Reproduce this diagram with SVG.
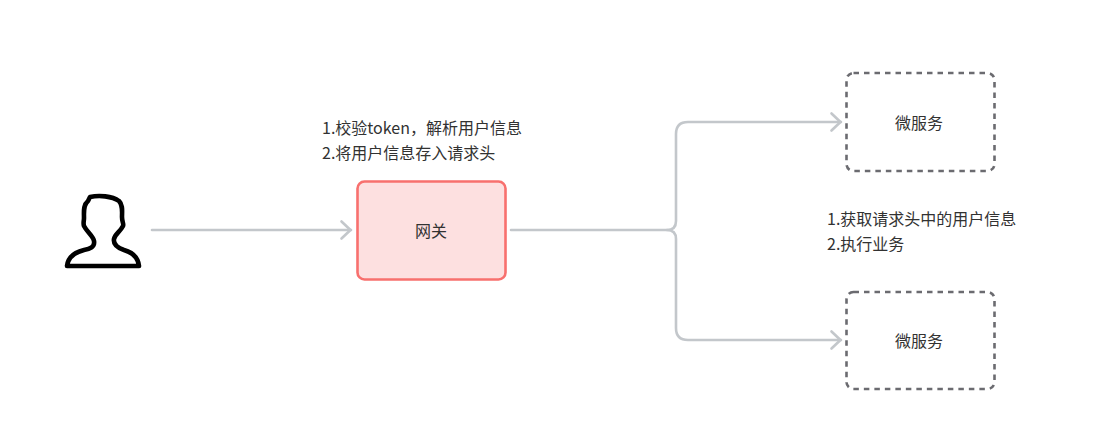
<svg xmlns="http://www.w3.org/2000/svg" width="1095" height="444" viewBox="0 0 1095 444">
<defs>
<style>
text{font-family:"Noto Sans CJK SC","Noto Sans",sans-serif;font-size:16px;fill:#323232}
.c{text-anchor:middle}
.conn{fill:none;stroke:#c3c7cb;stroke-width:2.6;stroke-linecap:round;stroke-linejoin:round}
.svc{fill:none;stroke:#6b6b70;stroke-width:2.6;stroke-dasharray:5.5 5}
</style>
<marker id="arrow" markerUnits="userSpaceOnUse" markerWidth="14" markerHeight="20" refX="11" refY="10" orient="auto" overflow="visible">
<path d="M1.5 1.5L10.5 10L1.5 18.5" fill="none" stroke="#c3c7cb" stroke-width="2.6" stroke-linecap="round" stroke-linejoin="round"/>
</marker>
</defs>
<rect width="1095" height="444" fill="#fff"/>
<g id="connectors">
<path class="conn" d="M152 230H351" marker-end="url(#arrow)"/>
<path class="conn" d="M511 230H667Q676 230 676 221V134Q676 122 688 122H841" marker-end="url(#arrow)"/>
<path class="conn" d="M667 230Q676 230 676 239V328Q676 340 688 340H841" marker-end="url(#arrow)"/>
</g>
<g id="user">
<path d="M90 197C99 195 112 196 119 201C123 205 122 211 122 217C122 222 124 224 123 226C120 232 115 234 114 239C113 245 118 248 124 250C131 252 138 256 139 266H67C68 256 76 252 84 250C90 249 95 247 94 241C93 236 87 232 84 226C83 223 84 221 84 218C84 212 83 205 88 201Z" fill="#fff" stroke="#000" stroke-width="4.6" stroke-linejoin="round"/>
</g>
<g id="gateway">
<rect x="357.500" y="181.500" width="148" height="98" rx="7" fill="#fde0e0" stroke="#f8706e" stroke-width="2.6"/>
<text class="c" x="431" y="237">网关</text>
</g>
<g id="service-1">
<rect x="846.500" y="73" width="148" height="98" rx="7" class="svc"/>
<text class="c" x="919" y="129">微服务</text>
</g>
<g id="service-2">
<rect x="846.500" y="292" width="148" height="97" rx="7" class="svc"/>
<text class="c" x="919" y="347">微服务</text>
</g>
<g id="gateway-note">
<text x="322" y="134">1.校验token，解析用户信息</text>
<text x="322" y="159">2.将用户信息存入请求头</text>
</g>
<g id="service-note">
<text x="827" y="225">1.获取请求头中的用户信息</text>
<text x="827" y="250">2.执行业务</text>
</g>
</svg>
